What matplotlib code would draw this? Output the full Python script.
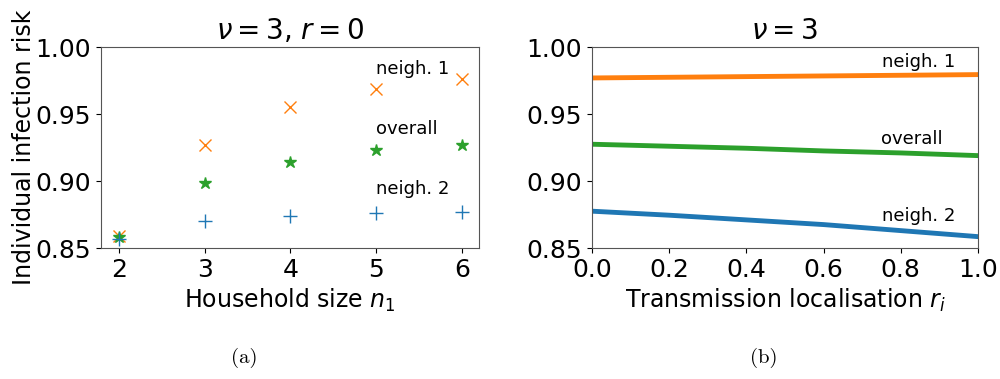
import numpy as np
import matplotlib.pyplot as plt

# panel (a): risk vs household size
n1 = [2, 3, 4, 5, 6]
risk_neigh1 = [0.859, 0.927, 0.955, 0.969, 0.9765]
risk_overall = [0.858, 0.8985, 0.9145, 0.923, 0.927]
risk_neigh2 = [0.857, 0.870, 0.874, 0.876, 0.877]

# panel (b): risk vs transmission localisation
r_loc = [0.0, 0.2, 0.4, 0.6, 0.8, 1.0]
line_neigh1 = [0.977, 0.9775, 0.978, 0.9785, 0.979, 0.9795]
line_overall = [0.9275, 0.926, 0.9245, 0.9225, 0.921, 0.919]
line_neigh2 = [0.8775, 0.8745, 0.871, 0.8675, 0.863, 0.8585]

blue, orange, green = '#1f77b4', '#ff7f0e', '#2ca02c'

fig = plt.figure(figsize=(10, 3.79), dpi=100)
ax1 = fig.add_axes([0.101, 0.3456, 0.378, 0.530])
ax2 = fig.add_axes([0.592, 0.3456, 0.386, 0.530])

ax1.plot(n1, risk_neigh1, 'x', color=orange, ms=9, mew=1.0)
ax1.plot(n1, risk_overall, '*', color=green, ms=9)
ax1.plot(n1, risk_neigh2, '+', color=blue, ms=10, mew=1.0)
ax1.set_xlim(1.79, 6.2)
ax1.set_ylim(0.85, 1.0)
ax1.set_xticks(n1)
ax1.set_yticks([0.85, 0.90, 0.95, 1.00])
ax1.set_title(r'$\nu=3$, $r=0$', fontsize=20)
ax1.set_xlabel(r'Household size $n_1$', fontsize=17)
ax1.set_ylabel('Individual infection risk', fontsize=17, labelpad=0)
ax1.text(5.0, 0.980, 'neigh. 1', fontsize=13)
ax1.text(5.0, 0.935, 'overall', fontsize=13)
ax1.text(5.0, 0.8905, 'neigh. 2', fontsize=13)

ax2.plot(r_loc, line_neigh1, color=orange, lw=3.5)
ax2.plot(r_loc, line_overall, color=green, lw=3.5)
ax2.plot(r_loc, line_neigh2, color=blue, lw=3.5)
ax2.set_xlim(0, 1)
ax2.set_ylim(0.85, 1.0)
ax2.set_yticks([0.85, 0.90, 0.95, 1.00])
ax2.set_title(r'$\nu=3$', fontsize=20)
ax2.set_xlabel(r'Transmission localisation $r_i$', fontsize=17)
ax2.text(0.75, 0.9855, 'neigh. 1', fontsize=13)
ax2.text(0.75, 0.9275, 'overall', fontsize=13)
ax2.text(0.75, 0.8705, 'neigh. 2', fontsize=13)

for ax in (ax1, ax2):
    ax.tick_params(labelsize=18)
    for s in ax.spines.values():
        s.set_color('#555555')

fig.text(0.244, 0.055, '(a)', fontsize=15, family='cmr10', ha='center', va='center')
fig.text(0.764, 0.055, '(b)', fontsize=15, family='cmr10', ha='center', va='center')

fig.savefig('out.png', dpi=100)
